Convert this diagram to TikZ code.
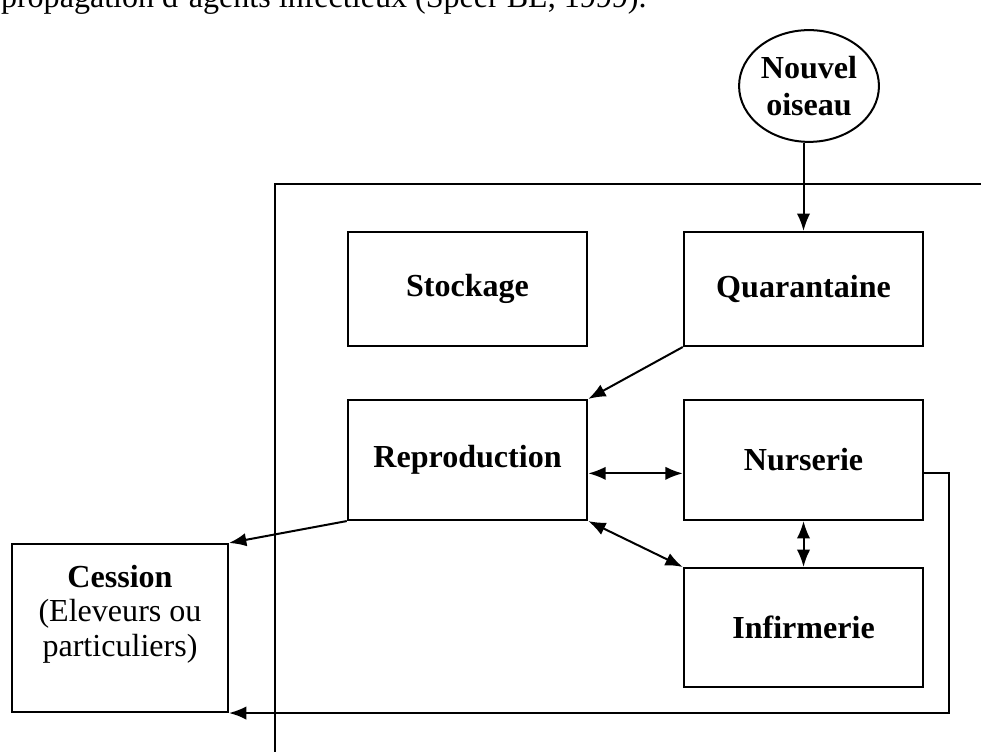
\documentclass[tikz,border=0pt]{standalone}
\usepackage{fontspec}
\setmainfont{Liberation Serif}
\usetikzlibrary{shapes.geometric, arrows.meta}

\begin{document}
\begin{tikzpicture}[x=0.01315cm, y=-0.01315cm, line width=0.75pt,
      font=\fontsize{12}{14}\selectfont,
      >={Latex[length=6.5pt,width=5pt]},
      zone/.style={draw, font=\fontsize{12}{14}\selectfont\bfseries, minimum width=3.15cm}]
    \useasboundingbox (0,0) rectangle (981,752);

    \node[anchor=base west, inner sep=0] (caption) at (0,8) {propagation d'agents infectieux (Speer BL, 1999).};

    % enceinte de l'elevage
    \coordinate (frame bl) at (275,752);
    \coordinate (frame tr) at (981,184);
    \draw (frame bl) |- (frame tr);

    \node[draw, ellipse, inner sep=0, minimum width=1.84cm, minimum height=1.47cm,
          align=center, font=\fontsize{12}{14}\selectfont\bfseries] (oiseau) at (809,86) {Nouvel\\oiseau};

    \node[zone, minimum height=1.50cm] (stockage) at (467.5,289) {Stockage};
    \node[zone, minimum height=1.50cm] (quarantaine) at (803.5,289) {Quarantaine};
    \node[zone, minimum height=1.58cm] (reproduction) at (467.5,460) {Reproduction};
    \node[zone, minimum height=1.58cm] (nurserie) at (803.5,460) {Nurserie};
    \node[zone, minimum height=1.565cm] (infirmerie) at (803.5,627.5) {Infirmerie};
    \node[draw, align=center, minimum width=2.84cm, minimum height=2.21cm,
          font=\fontsize{12}{13}\selectfont] (cession) at (120,628)
        {\textbf{Cession}\\(Eleveurs ou\\particuliers)\\\mbox{}};

    \draw[->] (oiseau.south -| quarantaine.north) -- (quarantaine.north);
    \draw[->] (quarantaine.south west) -- (reproduction.north east);
    \draw[<->] ([yshift=-5pt]reproduction.east) -- ([yshift=-5pt]nurserie.west);
    \draw[<->] (reproduction.south east) -- (infirmerie.north west);
    \draw[<->] (nurserie.south) -- (infirmerie.north);
    \draw[->] (reproduction.south west) -- (cession.north east);
    \draw[->] ([yshift=-5pt]nurserie.east) -- ++(25,0) |- (cession.south east);
\end{tikzpicture}
\end{document}
